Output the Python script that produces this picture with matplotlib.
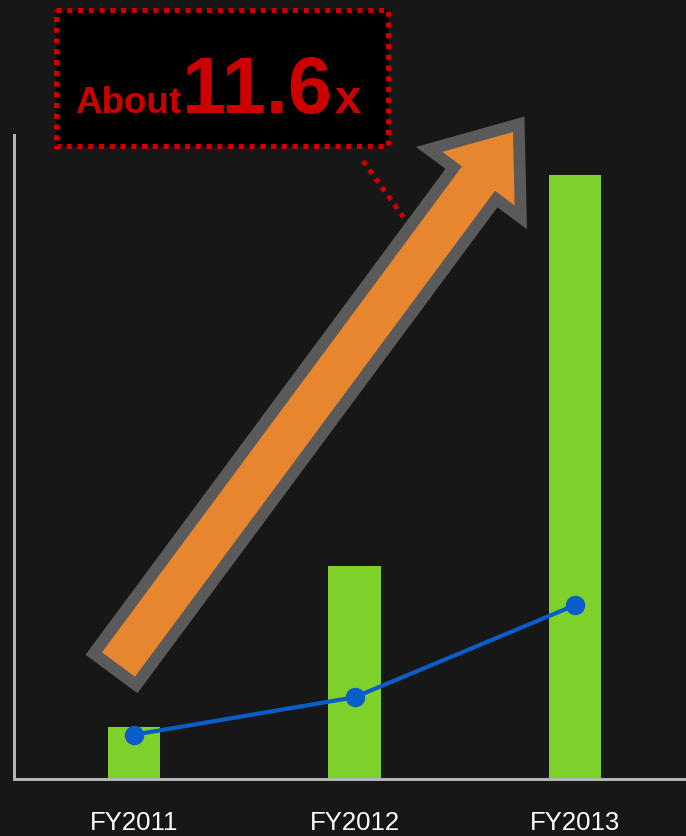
import numpy as np
import matplotlib.pyplot as plt
from matplotlib.patches import FancyArrow, Rectangle
from matplotlib.lines import Line2D
from matplotlib.transforms import Affine2D

plt.rcParams['font.family'] = ['Liberation Sans', 'DejaVu Sans']

# data
years = ['FY2011', 'FY2012', 'FY2013']
sales = [1.0, 4.1, 11.6]
units = [0.85, 1.57, 3.34]

W, H = 686, 837
BG = '#171717'
RED = '#CC0000'

fig = plt.figure(figsize=(W / 100, H / 100), dpi=100, facecolor=BG)
ax = fig.add_axes([14 / W, 57 / H, 672 / W, 645 / H])
ax.set_facecolor(BG)

x = np.arange(len(years))
ax.bar(x, sales, width=0.236, color='#7ED12B', zorder=2)
ax.plot(x, units, color='#0A5CC8', lw=3, marker='o', ms=13, zorder=3)

ax.set_xlim(-0.544, 2.503)
ax.set_ylim(0, 12.39)
ax.set_xticks(x, years)
ax.set_yticks([])
ax.tick_params(axis='x', length=0, pad=22, labelsize=18.5, labelcolor='white')
for s in ['top', 'right']:
    ax.spines[s].set_visible(False)
for s in ['left', 'bottom']:
    ax.spines[s].set_color('#b5b5b5')
    ax.spines[s].set_linewidth(2.4)
    ax.spines[s].set_linestyle((0, (0.6, 0.35)))
    ax.spines[s].set_antialiased(False)

# pixel coordinates, origin at the top-left corner
px = Affine2D().scale(1, -1).translate(0, H)

# growth arrow: gray outline under an orange body
arrow_kw = dict(width=41, head_width=90, head_length=58,
                length_includes_head=True, transform=px)
outline = FancyArrow(118.5, 665.5, 394.5, -532.5, facecolor='#5a5a5a',
                     edgecolor='#5a5a5a', lw=17, joinstyle='miter', **arrow_kw)
body = FancyArrow(118.5, 665.5, 394.5, -532.5, facecolor='#E8862F',
                  edgecolor='none', **arrow_kw)

# callout box with its leader line
dots = (0, (1, 1.15))
leader = Line2D([363, 404], [162, 219], transform=px, color=RED, lw=3.6,
                ls=dots, dash_capstyle='butt')
box = Rectangle((56, 11), 332, 136, transform=px, facecolor='black',
                edgecolor=RED, lw=3.6, ls=dots)
fig.add_artist(leader)
fig.add_artist(outline)
fig.add_artist(body)
fig.add_artist(box)

fig.text(75, 113, 'About', transform=px, fontsize=26.5, weight='bold',
         color=RED, va='baseline', ha='left')
fig.text(182, 113, '11.6', transform=px, fontsize=57, weight='bold',
         color=RED, va='baseline', ha='left')
fig.text(335, 113, 'x', transform=px, fontsize=34, weight='bold',
         color=RED, va='baseline', ha='left')

fig.savefig('out.png', dpi=100, facecolor=BG)
